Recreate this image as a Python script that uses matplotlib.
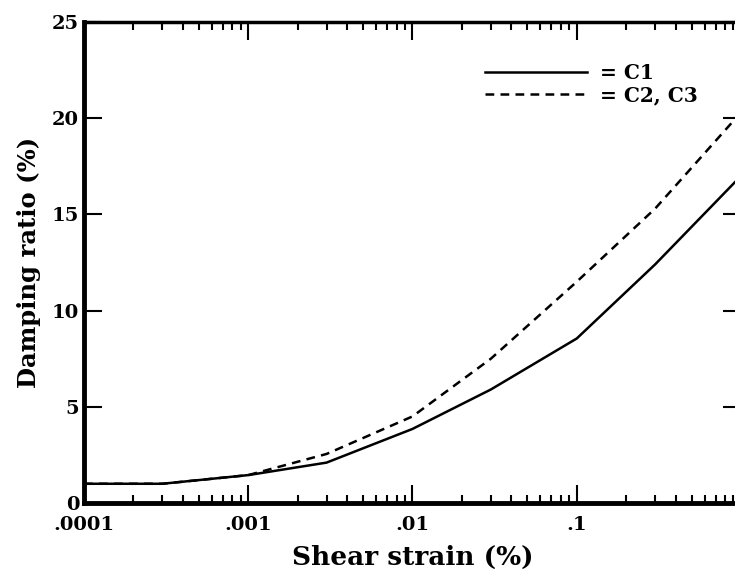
import matplotlib
matplotlib.use('Agg')
import matplotlib.pyplot as plt
from matplotlib.ticker import FixedLocator, LogLocator, NullFormatter

# values (strain in %, damping in %)
strain = [1e-4, 3e-4, 1e-3, 3e-3, 1e-2, 3e-2, 1e-1, 3e-1, 1.0]
damping_c1 = [1.0, 1.0, 1.45, 2.1, 3.85, 5.9, 8.55, 12.4, 17.0]
damping_c23 = [1.0, 1.0, 1.45, 2.55, 4.5, 7.5, 11.5, 15.3, 20.3]

xticks = [1e-4, 1e-3, 1e-2, 1e-1]
xlabels = ['.0001', '.001', '.01', '.1']
yticks = [0, 5, 10, 15, 20, 25]

plt.rcParams['font.family'] = ['DejaVu Serif']
plt.rcParams['font.weight'] = 'bold'

fig = plt.figure(figsize=(7.35, 5.75), dpi=100)
ax = fig.add_axes([84/735, 72/575, 657/735, 481/575])

ax.plot(strain, damping_c1, color='black', lw=1.8, label='= C1')
ax.plot(strain, damping_c23, color='black', lw=1.8, ls=(0, (3.5, 2.5)), label='= C2, C3')

ax.set_xscale('log')
ax.set_xlim(1e-4, 1)
ax.set_ylim(0, 25)

ax.xaxis.set_major_locator(FixedLocator(xticks))
ax.set_xticklabels(xlabels)
ax.xaxis.set_minor_locator(LogLocator(base=10, subs=range(2, 10)))
ax.xaxis.set_minor_formatter(NullFormatter())
ax.set_yticks(yticks)

ax.tick_params(which='both', direction='in', top=True, right=True, labelsize=14, width=1.5)
ax.tick_params(which='major', length=13)
ax.tick_params(which='minor', length=6)
ax.tick_params(axis='x', which='major', pad=9)

for side, w in [('left', 3.5), ('bottom', 3.5), ('top', 2.5), ('right', 2.5)]:
    ax.spines[side].set_linewidth(w)

ax.set_xlabel('Shear strain (%)', fontsize=19, fontweight='bold', labelpad=8)
ax.set_ylabel('Damping ratio (%)', fontsize=17.5, fontweight='bold', labelpad=8)

ax.legend(loc='upper left', bbox_to_anchor=(0.61, 0.915), frameon=False,
          fontsize=14.5, handlelength=5.1, handletextpad=0.6, labelspacing=0.1,
          borderpad=0, borderaxespad=0)

fig.savefig('out.png', dpi=100)
